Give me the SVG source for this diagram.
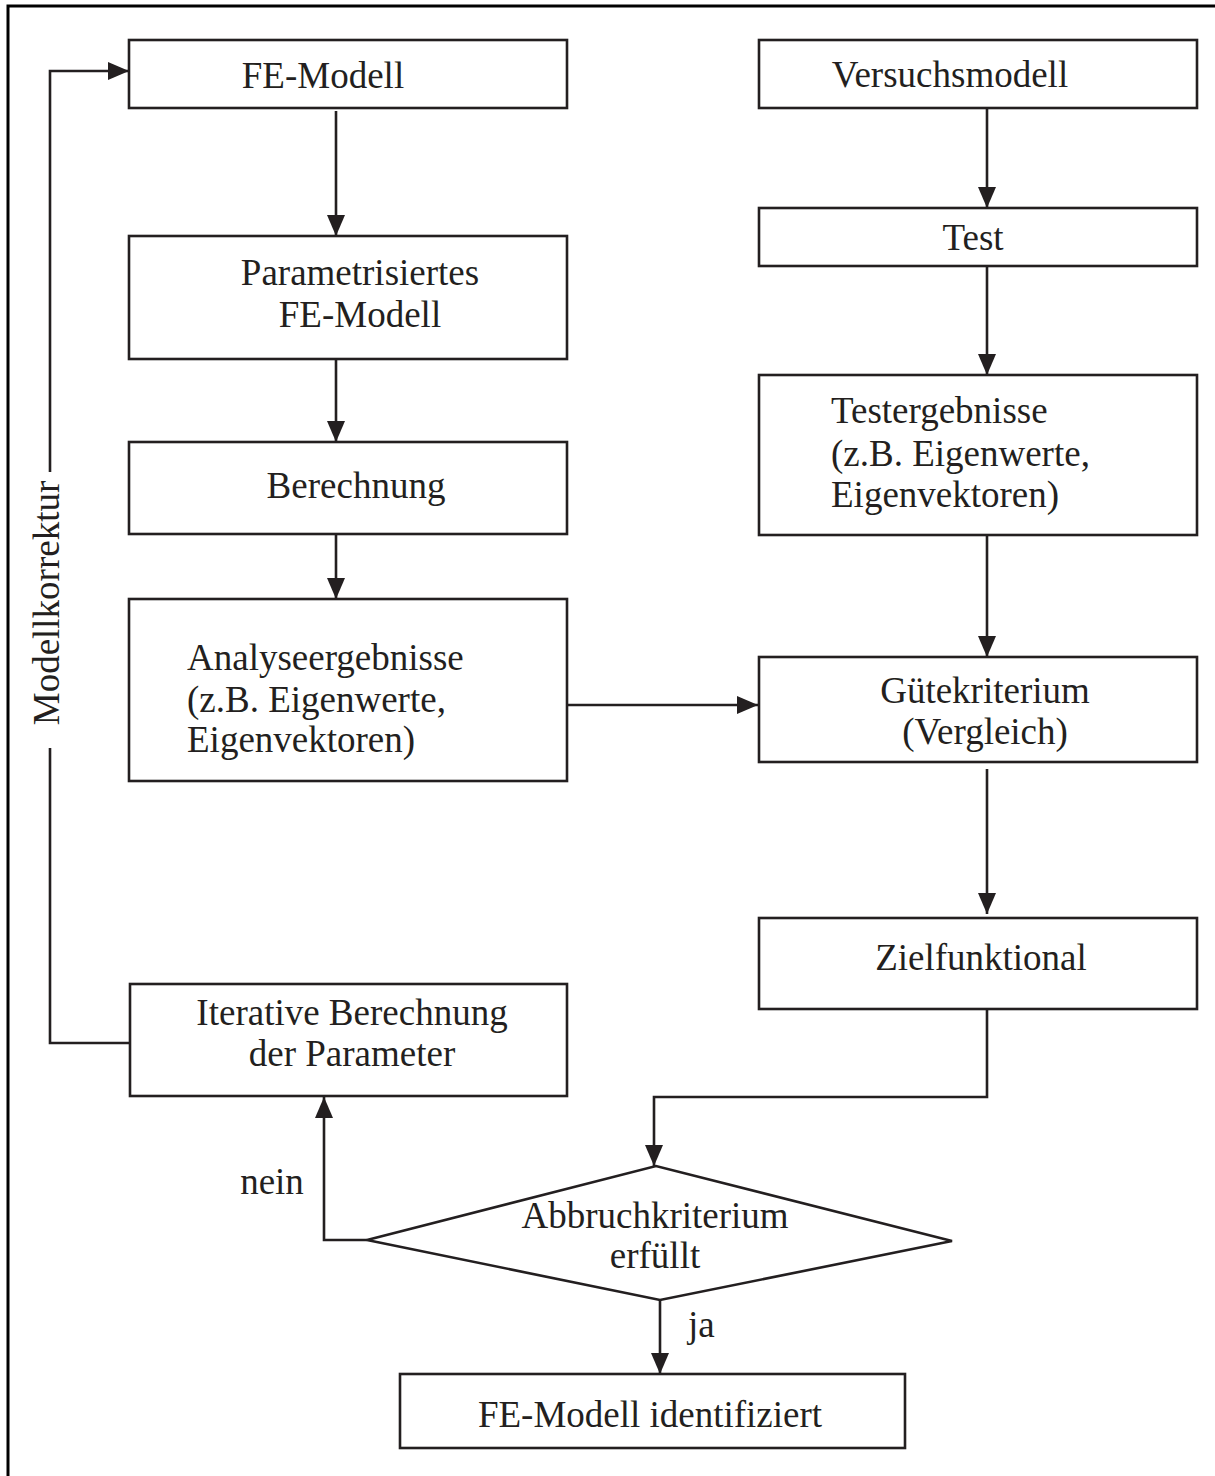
<svg xmlns="http://www.w3.org/2000/svg" width="1215" height="1476" viewBox="0 0 1215 1476">
<defs>
<style>
.box{fill:#fff;stroke:#231f20;stroke-width:2.6}
.ln{fill:none;stroke:#231f20;stroke-width:2.6}
text{font-family:"Liberation Serif","Times New Roman",serif;font-size:37px;fill:#231f20}
.c{text-anchor:middle}
</style>
<marker id="ah" viewBox="0 0 21 18" refX="21" refY="9" markerWidth="21" markerHeight="18" markerUnits="userSpaceOnUse" orient="auto">
<path d="M0,0 L21,9 L0,18 z" fill="#231f20"/>
</marker>
</defs>
<rect x="0" y="0" width="1215" height="1476" fill="#fff"/>
<path d="M8,1476 V6 H1215" fill="none" stroke="#000" stroke-width="3"/>

<g id="connectors">
<path class="ln" d="M336,111 V236" marker-end="url(#ah)"/>
<path class="ln" d="M336,359 V442" marker-end="url(#ah)"/>
<path class="ln" d="M336,534 V599" marker-end="url(#ah)"/>
<path class="ln" d="M987,108 V208" marker-end="url(#ah)"/>
<path class="ln" d="M987,266 V375" marker-end="url(#ah)"/>
<path class="ln" d="M987,535 V657" marker-end="url(#ah)"/>
<path class="ln" d="M567,705 H758" marker-end="url(#ah)"/>
<path class="ln" d="M987,769 V914" marker-end="url(#ah)"/>
<path class="ln" d="M987,1009 V1097 H654 V1166" marker-end="url(#ah)"/>
<path class="ln" d="M367,1240 H324 V1097" marker-end="url(#ah)"/>
<path class="ln" d="M660,1300 V1374" marker-end="url(#ah)"/>
<path class="ln" d="M130,1043 H50 V748"/>
<path class="ln" d="M50,472 V71 H129" marker-end="url(#ah)"/>
</g>

<g id="labels">
<text transform="translate(59,603) rotate(-90)" class="c">Modellkorrektur</text>
<text x="272" y="1194" class="c">nein</text>
<text x="688" y="1337">ja</text>
</g>

<g id="fe-modell">
<rect class="box" x="129" y="40" width="438" height="68"/>
<text x="323" y="88" class="c">FE-Modell</text>
</g>
<g id="versuchsmodell">
<rect class="box" x="759" y="40" width="438" height="68"/>
<text x="950" y="87" class="c">Versuchsmodell</text>
</g>
<g id="parametrisiertes">
<rect class="box" x="129" y="236" width="438" height="123"/>
<text x="360" y="285" class="c">Parametrisiertes</text>
<text x="360" y="327" class="c">FE-Modell</text>
</g>
<g id="test">
<rect class="box" x="759" y="208" width="438" height="58"/>
<text x="973" y="250" class="c">Test</text>
</g>
<g id="berechnung">
<rect class="box" x="129" y="442" width="438" height="92"/>
<text x="356" y="498" class="c">Berechnung</text>
</g>
<g id="testergebnisse">
<rect class="box" x="759" y="375" width="438" height="160"/>
<text x="831" y="423">Testergebnisse</text>
<text x="831" y="466">(z.B. Eigenwerte,</text>
<text x="831" y="507">Eigenvektoren)</text>
</g>
<g id="analyseergebnisse">
<rect class="box" x="129" y="599" width="438" height="182"/>
<text x="187" y="670">Analyseergebnisse</text>
<text x="187" y="712">(z.B. Eigenwerte,</text>
<text x="187" y="752">Eigenvektoren)</text>
</g>
<g id="guetekriterium">
<rect class="box" x="759" y="657" width="438" height="105"/>
<text x="985" y="703" class="c">Gütekriterium</text>
<text x="985" y="744" class="c">(Vergleich)</text>
</g>
<g id="zielfunktional">
<rect class="box" x="759" y="918" width="438" height="91"/>
<text x="981" y="970" class="c">Zielfunktional</text>
</g>
<g id="iterative">
<rect class="box" x="130" y="984" width="437" height="112"/>
<text x="352" y="1025" class="c">Iterative Berechnung</text>
<text x="352" y="1066" class="c">der Parameter</text>
</g>
<g id="abbruchkriterium">
<polygon class="box" points="367,1240 656,1166 952,1241 660,1300"/>
<text x="655" y="1228" class="c">Abbruchkriterium</text>
<text x="655" y="1268" class="c">erfüllt</text>
</g>
<g id="identifiziert">
<rect class="box" x="400" y="1374" width="505" height="74"/>
<text x="650" y="1427" class="c">FE-Modell identifiziert</text>
</g>
</svg>
